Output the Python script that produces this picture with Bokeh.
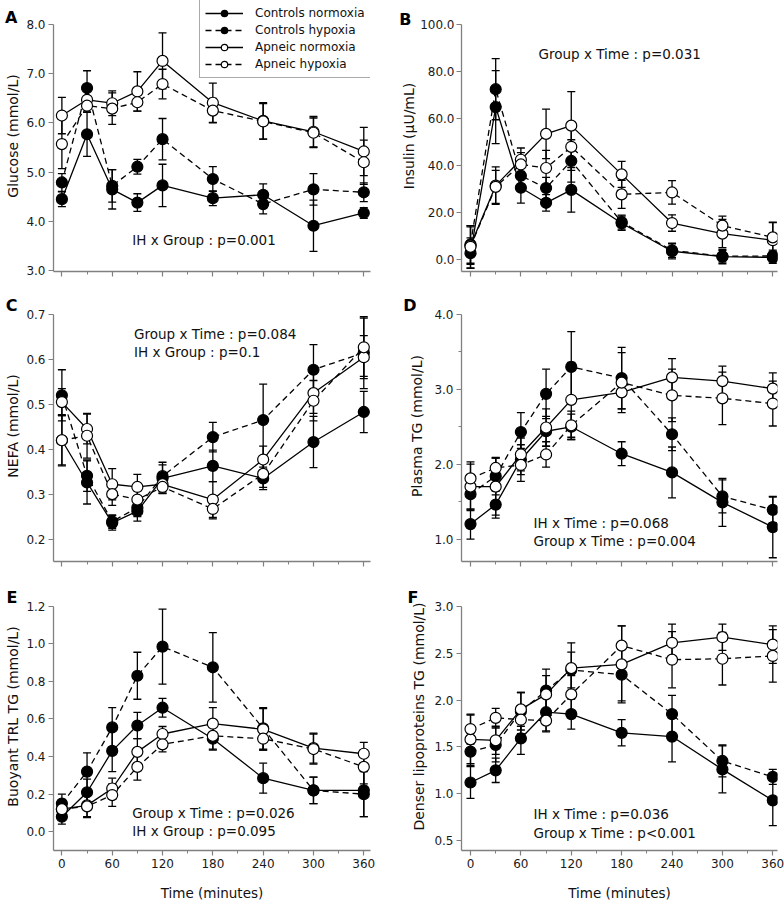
from bokeh.plotting import figure
from bokeh.layouts import column, row
from bokeh.models import (FixedTicker, PrintfTickFormatter, Range1d, Label, Legend, LegendItem,
                          LinearAxis, CustomJSTickFormatter)
from bokeh.embed import file_html
from bokeh.resources import INLINE

FONT = "DejaVu Sans"

times = [0, 30, 60, 90, 120, 180, 240, 300, 360]
x_major = [0, 60, 120, 180, 240, 300, 360]
x_minor = [30, 90, 150, 210, 270, 330]
group_names = ["Controls normoxia", "Controls hypoxia", "Apneic normoxia", "Apneic hypoxia"]

# A: Glucose (mmol/L)
glu_cn = [4.45, 5.77, 4.65, 4.38, 4.73, 4.47, 4.54, 3.91, 4.17]
glu_cn_se = [0.15, 0.45, 0.40, 0.18, 0.43, 0.15, 0.22, 0.52, 0.11]
glu_ch = [4.79, 6.71, 4.72, 5.11, 5.67, 4.86, 4.35, 4.65, 4.59]
glu_ch_se = [0.18, 0.35, 0.33, 0.15, 0.42, 0.25, 0.20, 0.32, 0.19]
glu_an = [6.15, 6.47, 6.40, 6.64, 7.26, 6.41, 6.04, 5.82, 5.42]
glu_an_se = [0.37, 0.25, 0.25, 0.40, 0.57, 0.40, 0.37, 0.31, 0.49]
glu_ah = [5.57, 6.35, 6.29, 6.42, 6.79, 6.25, 6.03, 5.80, 5.20]
glu_ah_se = [0.50, 0.13, 0.32, 0.18, 0.30, 0.25, 0.36, 0.30, 0.45]

# B: Insulin (uU/mL)
ins_cn = [2.8, 64.9, 30.6, 24.2, 29.7, 15.5, 3.6, 1.3, 1.0]
ins_cn_se = [6.5, 15.5, 6.5, 3.5, 9.5, 3.0, 3.2, 3.0, 2.5]
ins_ch = [6.5, 72.5, 35.7, 30.5, 42.0, 16.0, 4.0, 1.5, 1.6]
ins_ch_se = [8.0, 13.0, 5.0, 4.5, 9.0, 3.0, 3.0, 2.5, 2.5]
ins_an = [6.0, 31.5, 42.5, 53.5, 57.0, 36.3, 15.6, 11.1, 8.3]
ins_an_se = [8.0, 8.0, 5.0, 10.5, 14.5, 5.5, 3.5, 6.0, 7.5]
ins_ah = [5.5, 31.0, 40.5, 39.0, 48.0, 27.8, 28.6, 14.5, 9.5]
ins_ah_se = [9.0, 7.0, 5.0, 7.5, 10.0, 6.0, 5.0, 4.0, 6.5]

# C: NEFA (mmol/L)
nefa_cn = [0.42, 0.326, 0.236, 0.262, 0.335, 0.363, 0.335, 0.416, 0.483]
nefa_cn_se = [0.055, 0.048, 0.016, 0.022, 0.030, 0.035, 0.025, 0.057, 0.046]
nefa_ch = [0.52, 0.341, 0.239, 0.270, 0.340, 0.427, 0.465, 0.577, 0.615]
nefa_ch_se = [0.057, 0.035, 0.015, 0.020, 0.031, 0.033, 0.080, 0.056, 0.080]
nefa_an = [0.505, 0.445, 0.322, 0.316, 0.322, 0.288, 0.377, 0.525, 0.605]
nefa_an_se = [0.030, 0.033, 0.035, 0.028, 0.020, 0.040, 0.030, 0.045, 0.048]
nefa_ah = [0.42, 0.430, 0.300, 0.288, 0.316, 0.267, 0.345, 0.508, 0.627]
nefa_ah_se = [0.057, 0.050, 0.025, 0.020, 0.015, 0.022, 0.030, 0.045, 0.065]

# D: Plasma TG (mmol/L)
tg_cn = [1.20, 1.46, 2.06, 2.44, 2.50, 2.14, 1.89, 1.49, 1.16]
tg_cn_se = [0.20, 0.18, 0.20, 0.20, 0.17, 0.16, 0.34, 0.32, 0.41]
tg_ch = [1.60, 1.84, 2.43, 2.94, 3.30, 3.15, 2.40, 1.57, 1.39]
tg_ch_se = [0.22, 0.25, 0.26, 0.33, 0.47, 0.41, 0.22, 0.22, 0.17]
tg_an = [1.70, 1.70, 2.13, 2.49, 2.86, 2.96, 3.16, 3.11, 3.01]
tg_an_se = [0.30, 0.38, 0.22, 0.25, 0.50, 0.22, 0.25, 0.20, 0.21]
tg_ah = [1.81, 1.95, 1.99, 2.13, 2.52, 3.09, 2.92, 2.88, 2.81]
tg_ah_se = [0.22, 0.13, 0.22, 0.17, 0.19, 0.40, 0.35, 0.35, 0.30]

# E: Buoyant TRL TG (mmol/L)
trl_cn = [0.08, 0.21, 0.43, 0.565, 0.66, 0.495, 0.285, 0.22, 0.22]
trl_cn_se = [0.04, 0.07, 0.11, 0.07, 0.05, 0.06, 0.08, 0.07, 0.14]
trl_ch = [0.15, 0.32, 0.555, 0.83, 0.985, 0.875, 0.55, 0.22, 0.20]
trl_ch_se = [0.05, 0.10, 0.105, 0.125, 0.20, 0.185, 0.11, 0.07, 0.12]
trl_an = [0.12, 0.14, 0.23, 0.425, 0.52, 0.575, 0.545, 0.445, 0.415]
trl_an_se = [0.05, 0.06, 0.055, 0.07, 0.04, 0.085, 0.11, 0.08, 0.06]
trl_ah = [0.12, 0.135, 0.195, 0.345, 0.465, 0.51, 0.495, 0.44, 0.345]
trl_ah_se = [0.04, 0.06, 0.06, 0.07, 0.04, 0.07, 0.06, 0.08, 0.09]

# F: Denser lipoproteins TG (mmol/L)
den_cn = [1.12, 1.25, 1.59, 1.87, 1.85, 1.65, 1.61, 1.26, 0.93]
den_cn_se = [0.17, 0.13, 0.17, 0.20, 0.16, 0.14, 0.27, 0.25, 0.27]
den_ch = [1.45, 1.52, 1.88, 2.10, 2.32, 2.27, 1.85, 1.35, 1.18]
den_ch_se = [0.15, 0.18, 0.20, 0.23, 0.19, 0.28, 0.20, 0.17, 0.08]
den_an = [1.58, 1.57, 1.90, 2.06, 2.34, 2.38, 2.61, 2.67, 2.59]
den_an_se = [0.26, 0.15, 0.18, 0.20, 0.27, 0.41, 0.20, 0.14, 0.20]
den_ah = [1.69, 1.81, 1.79, 1.78, 2.06, 2.58, 2.43, 2.44, 2.47]
den_ah_se = [0.16, 0.10, 0.15, 0.12, 0.20, 0.21, 0.30, 0.28, 0.28]

panels = [
    dict(letter="A", ylabel="Glucose (mmol/L)", yr=(2.98, 8.0), yticks=[3, 4, 5, 6, 7, 8], yminor=[],
         series=[(glu_cn, glu_cn_se), (glu_ch, glu_ch_se), (glu_an, glu_an_se), (glu_ah, glu_ah_se)],
         notes=["IH x Group : p=0.001"], note_x=84, note_y=[3.63]),
    dict(letter="B", ylabel="Insulin (µU/mL)", yr=(-5, 100), yticks=[0, 20, 40, 60, 80, 100], yminor=[],
         series=[(ins_cn, ins_cn_se), (ins_ch, ins_ch_se), (ins_an, ins_an_se), (ins_ah, ins_ah_se)],
         notes=["Group x Time : p=0.031"], note_x=81, note_y=[87.5]),
    dict(letter="C", ylabel="NEFA (mmol/L)", yr=(0.15, 0.7), yticks=[0.2, 0.3, 0.4, 0.5, 0.6, 0.7], yminor=[],
         series=[(nefa_cn, nefa_cn_se), (nefa_ch, nefa_ch_se), (nefa_an, nefa_an_se), (nefa_ah, nefa_ah_se)],
         notes=["Group x Time : p=0.084", "IH x Group : p=0.1"], note_x=86, note_y=[0.657, 0.616]),
    dict(letter="D", ylabel="Plasma TG (mmol/L)", yr=(0.70, 4.0), yticks=[1, 2, 3, 4], yminor=[1.5, 2.5, 3.5],
         series=[(tg_cn, tg_cn_se), (tg_ch, tg_ch_se), (tg_an, tg_an_se), (tg_ah, tg_ah_se)],
         notes=["IH x Time : p=0.068", "Group x Time : p=0.004"], note_x=75, note_y=[1.21, 0.98]),
    dict(letter="E", ylabel="Buoyant TRL TG (mmol/L)", yr=(-0.10, 1.2), yticks=[0, 0.2, 0.4, 0.6, 0.8, 1.0, 1.2], yminor=[],
         series=[(trl_cn, trl_cn_se), (trl_ch, trl_ch_se), (trl_an, trl_an_se), (trl_ah, trl_ah_se)],
         notes=["Group x Time : p=0.026", "IH x Group : p=0.095"], note_x=84, note_y=[0.10, 0.004]),
    dict(letter="F", ylabel="Denser lipoproteins TG (mmol/L)", yr=(0.395, 3.0), yticks=[0.5, 1.0, 1.5, 2.0, 2.5, 3.0], yminor=[],
         series=[(den_cn, den_cn_se), (den_ch, den_ch_se), (den_an, den_an_se), (den_ah, den_ah_se)],
         notes=["IH x Time : p=0.036", "Group x Time : p<0.001"], note_x=75, note_y=[0.78, 0.585]),
]

styles = [("black", "solid"), ("black", "6 4"), ("white", "solid"), ("white", "6 4")]

# ---- layout constants (pixels) ----
SPINE = "#808080"
AXIS_PX = 247          # height of the drawn y axis
EXT_PX = 24            # frame extends above the top tick by this much
row_h = [290, 292, 321]
row_bot = [19, 21, 50]
col_left = [53, 69]
col_frame_w = [317, 316]
col_xr = [(-10, 368), (-10.72, 365.6)]
tick_standoff = [3, 2, 3, 3, 3, 3]
ylabel_standoff = [2, 0, 2, 6, 2, 4]
letter_standoff = [-15, -13, -15, -10, -15, -10]
letter_px_above = [7, 5, 9, 9, 9, 9]


def make_panel(i):
    d = panels[i]
    r, c = divmod(i, 2)
    ymin, ytop = d["yr"]
    per_px = (ytop - ymin) / AXIS_PX
    yext = ytop + EXT_PX * per_px
    right_b = 392 - col_left[c] - col_frame_w[c]
    p = figure(width=392, height=row_h[r], output_backend="svg", toolbar_location=None,
               x_range=Range1d(*col_xr[c]), y_range=Range1d(ymin, yext),
               min_border_left=col_left[c], min_border_right=right_b,
               min_border_top=0, min_border_bottom=row_bot[r])
    p.xgrid.visible = False
    p.ygrid.visible = False
    p.outline_line_color = None
    p.background_fill_color = "white"
    p.border_fill_color = "white"

    for ax in (p.xaxis[0], p.yaxis[0]):
        ax.axis_line_color = SPINE
        ax.axis_line_width = 1.3
        ax.major_tick_line_color = SPINE
        ax.minor_tick_line_color = SPINE
        ax.major_tick_line_width = 1.2
        ax.minor_tick_line_width = 1.0
        ax.major_tick_out = 5
        ax.major_tick_in = 0
        ax.minor_tick_out = 3
        ax.minor_tick_in = 0
        ax.major_label_text_font = FONT
        ax.major_label_text_font_size = "12px"
        ax.major_label_text_color = "#1a1a1a"
        ax.axis_label_text_font = FONT
        ax.axis_label_text_font_style = "normal"
        ax.axis_label_text_color = "#111111"

    ya = p.yaxis[0]
    ya.ticker = FixedTicker(ticks=d["yticks"], minor_ticks=d["yminor"])
    ya.formatter = PrintfTickFormatter(format="%.1f")
    ya.bounds = (ymin, ytop)
    ya.axis_label = d["ylabel"]
    ya.axis_label_text_font_size = "14px"
    ya.major_label_standoff = tick_standoff[i]
    ya.axis_label_standoff = ylabel_standoff[i]

    # panel letter: the single label of an outer, line-less axis
    letter_val = ytop + letter_px_above[i] * per_px
    la = LinearAxis(ticker=FixedTicker(ticks=[letter_val], minor_ticks=[]),
                    formatter=CustomJSTickFormatter(code="return %r;" % d["letter"]),
                    axis_line_color=None, major_tick_line_color=None, minor_tick_line_color=None,
                    major_tick_out=0, major_tick_in=0, minor_tick_out=0, minor_tick_in=0,
                    major_label_standoff=letter_standoff[i],
                    major_label_text_font=FONT, major_label_text_font_size="16px",
                    major_label_text_font_style="bold", major_label_text_color="black")
    p.add_layout(la, "left")

    xa = p.xaxis[0]
    xa.ticker = FixedTicker(ticks=x_major, minor_ticks=x_minor)
    if r == 2:
        xa.axis_label = "Time (minutes)"
        xa.axis_label_text_font_size = "13.5px"
        xa.major_label_standoff = 3
        xa.axis_label_standoff = 14
    else:
        xa.major_label_overrides = {t: "" for t in x_major}
        xa.major_label_standoff = 0

    # error bars first
    for (vals, se) in d["series"]:
        lo = [v - e for v, e in zip(vals, se)]
        hi = [v + e for v, e in zip(vals, se)]
        p.segment(x0=times, y0=lo, x1=times, y1=hi, line_color="black", line_width=1.3)
        p.scatter(times, lo, marker="dash", size=8, line_color="black", line_width=1.3)
        p.scatter(times, hi, marker="dash", size=8, line_color="black", line_width=1.3)

    line_rs, mark_rs = [], []
    for (vals, se), (fill, dash) in zip(d["series"], styles):
        lr = p.line(times, vals, line_color="black", line_width=1.3, line_dash=dash)
        line_rs.append(lr)
    for (vals, se), (fill, dash) in zip(d["series"], styles):
        mr = p.scatter(times, vals, marker="circle", size=11, fill_color=fill,
                       line_color="black", line_width=1.2)
        mark_rs.append(mr)

    for txt, yv in zip(d["notes"], d["note_y"]):
        p.add_layout(Label(x=d["note_x"], y=yv, text=txt, text_font=FONT, text_font_size="13.5px",
                           text_baseline="middle", text_align="left", text_color="#111111"))

    if i == 0:
        items = [LegendItem(label=n, renderers=[lr, mr]) for n, lr, mr in zip(group_names, line_rs, mark_rs)]
        leg = Legend(items=items, location=(146, 193), label_text_font=FONT, label_text_font_size="12px",
                     label_text_color="#111111", glyph_width=38, glyph_height=16, label_height=16,
                     label_standoff=12, padding=5, spacing=1, margin=0,
                     border_line_color="#555555", border_line_width=1, background_fill_color="white",
                     background_fill_alpha=1.0)
        p.add_layout(leg)
    return p


figs = [make_panel(i) for i in range(6)]
layout = column(row(figs[0], figs[1]), row(figs[2], figs[3]), row(figs[4], figs[5]))

open("out.html", "w").write(file_html(layout, INLINE))
